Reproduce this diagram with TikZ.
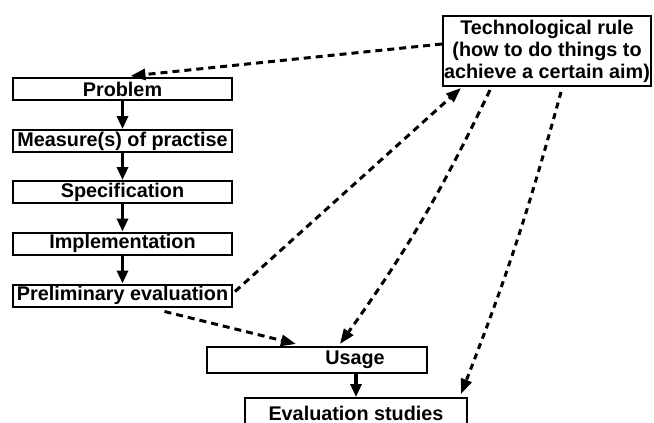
\documentclass[tikz,border=0pt]{standalone}
\usepackage{fontspec}
\setmainfont{Liberation Sans}
\usetikzlibrary{arrows.meta,calc}
\begin{document}
\begin{tikzpicture}[x=1pt,y=-1pt,
  box/.style={draw,line width=2pt,rectangle,inner sep=1pt,font=\bfseries\fontsize{19.8}{22}\selectfont},
  lbox/.style={box,minimum width=219pt,minimum height=22pt},
  solidarrow/.style={line width=3.2pt,-{Triangle[length=13pt,width=11pt]}},
  dasharrow/.style={line width=3pt,dash pattern=on 7pt off 5pt,-{Triangle[length=15pt,width=11pt]}}
]
\useasboundingbox (0,0) rectangle (654,423);
\clip (0,0) rectangle (654,423);
\fill[white] (0,0) rectangle (654,423);
\node[lbox] (problem) at (122.5,89) {Problem};
\node[lbox] (measure) at (122.5,141) {Measure(s) of practise};
\node[lbox] (spec) at (122.5,192) {Specification};
\node[lbox] (impl) at (122.5,243.5) {Implementation};
\node[lbox] (prelim) at (122.5,295.5) {Preliminary evaluation};
\node[box,minimum width=208pt,minimum height=70pt,align=center] (tech) at (547,51)
  {Technological rule\\(how to do things to\\achieve a certain aim)};
\node[box,minimum width=220pt,minimum height=26pt] (usage) at (317,360) {\hspace*{76pt}Usage};
\node[box,minimum width=222pt,minimum height=30pt] (eval) at (356,413) {Evaluation studies};
\draw[solidarrow] (problem.south) -- (measure.north);
\draw[solidarrow] (measure.south) -- (spec.north);
\draw[solidarrow] (spec.south) -- (impl.north);
\draw[solidarrow] (impl.south) -- (prelim.north);
\draw[solidarrow] (eval.north |- usage.south) -- (eval.north);
\draw[dasharrow] ($(tech.west)+(0,-7)$) -- ($(problem.north)+(8,-1)$);
\draw[dasharrow] ($(prelim.east)+(2,-4)$) -- ($(tech.south west)+(19,1)$);
\draw[dasharrow] ($(tech.south west)+(48,3)$) to[bend left=5] ($(usage.north)+(23,-2)$);
\draw[dasharrow,dash pattern=on 6pt off 5pt] ($(tech.south west)+(119,5)$) to[bend left=3] ($(eval.north east)+(-7,-3)$);
\draw[dasharrow] ($(prelim.south)+(42,4)$) -- ($(usage.north west)+(90,-2)$);
\end{tikzpicture}
\end{document}
